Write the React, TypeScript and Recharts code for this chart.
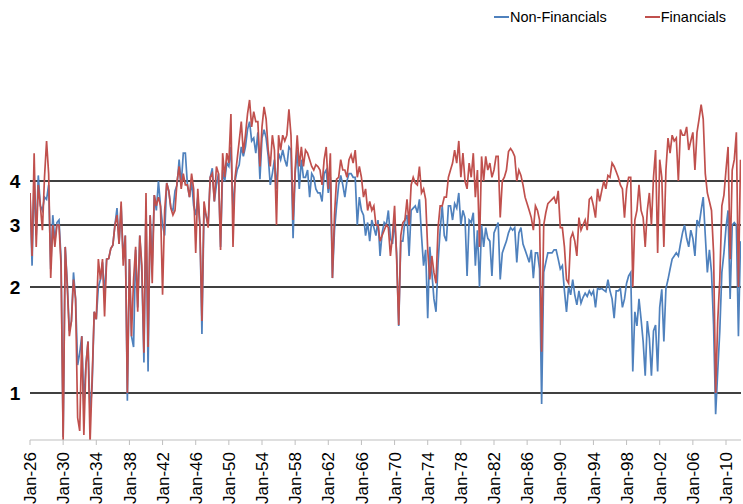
import React from "react";
import { LineChart, Line, XAxis, YAxis, ReferenceLine, Legend } from "recharts";

// Quarterly observations, Jan-1926 .. Oct-2011 (4 values per year)
const START_YEAR = 1926;

const financials: number[] = [
  3.7, 2.45, 4.8, 2.6, // 1926
  3.9, 3.4, 2.9, 4.1, // 1927
  5.2, 4.2, 2.12, 3.0, // 1928
  2.6, 3.0, 3.0, 2.3, // 1929
  0.73, 2.6, 2.0, 1.45, // 1930
  1.6, 2.1, 1.85, 0.85, // 1931
  0.78, 1.45, 0.76, 1.2, // 1932
  1.4, 0.72, 1.1, 1.7, // 1933
  1.62, 2.4, 2.1, 2.4, // 1934
  1.65, 2.4, 2.41, 2.57, // 1935
  2.63, 3.0, 3.2, 2.65, // 1936
  3.5, 2.3, 2.8, 1.0, // 1937
  2.4, 1.45, 2.1, 2.6, // 1938
  1.7, 2.8, 2.3, 1.3, // 1939
  3.7, 1.35, 3.2, 2.05, // 1940
  3.65, 3.4, 3.6, 3.4, // 1941
  1.9, 3.3, 3.95, 3.75, // 1942
  3.35, 3.2, 3.3, 4.0, // 1943
  4.4, 3.8, 4.2, 3.9, // 1944
  3.9, 3.6, 4.2, 3.8, // 1945
  2.5, 3.8, 3.0, 1.6, // 1946
  3.5, 3.2, 2.95, 4.1, // 1947
  4.2, 3.5, 4.4, 4.2, // 1948
  2.55, 4.8, 4.1, 4.8, // 1949
  4.5, 6.2, 2.6, 4.1, // 1950
  4.6, 5.2, 5.9, 4.8, // 1951
  5.4, 6.2, 6.8, 5.7, // 1952
  6.3, 5.9, 5.9, 4.4, // 1953
  5.7, 6.5, 6.0, 4.9, // 1954
  4.4, 5.4, 4.9, 3.0, // 1955
  5.4, 4.9, 5.4, 5.2, // 1956
  5.4, 6.4, 5.4, 3.1, // 1957
  4.3, 5.4, 4.4, 5.0, // 1958
  4.4, 4.9, 4.8, 4.6, // 1959
  4.4, 4.3, 4.45, 4.4, // 1960
  4.3, 3.9, 4.6, 5.0, // 1961
  3.8, 4.8, 2.12, 3.2, // 1962
  4.05, 4.1, 4.6, 4.3, // 1963
  4.3, 4.1, 4.6, 4.75, // 1964
  4.5, 4.9, 4.1, 4.4, // 1965
  4.1, 3.6, 3.8, 3.3, // 1966
  3.5, 3.3, 3.4, 3.0, // 1967
  3.0, 2.7, 2.8, 2.9, // 1968
  3.0, 2.95, 2.45, 2.8, // 1969
  3.4, 2.4, 1.56, 2.8, // 1970
  3.05, 3.1, 3.55, 3.0, // 1971
  3.9, 4.1, 3.95, 3.9, // 1972
  4.4, 3.7, 3.8, 3.55, // 1973
  2.55, 2.1, 2.45, 2.2, // 1974
  2.05, 2.95, 3.4, 3.4, // 1975
  3.6, 3.6, 4.1, 4.3, // 1976
  4.5, 4.9, 4.5, 5.2, // 1977
  4.1, 4.8, 4.0, 3.8, // 1978
  4.5, 4.1, 4.8, 3.6, // 1979
  4.3, 2.6, 4.7, 4.0, // 1980
  4.7, 4.3, 4.5, 4.1, // 1981
  4.3, 4.7, 4.7, 3.15, // 1982
  4.0, 4.1, 4.3, 4.85, // 1983
  4.95, 4.85, 4.7, 4.0, // 1984
  4.3, 4.15, 3.9, 3.6, // 1985
  3.45, 3.3, 3.15, 2.9, // 1986
  3.4, 3.3, 3.1, 1.31, // 1987
  3.0, 3.25, 3.45, 3.5, // 1988
  3.55, 3.6, 3.45, 3.75, // 1989
  2.95, 2.95, 2.6, 2.1, // 1990
  2.05, 2.75, 2.85, 2.7, // 1991
  2.45, 3.15, 2.9, 3.0, // 1992
  3.1, 2.9, 3.55, 3.6, // 1993
  3.4, 3.15, 3.8, 3.5, // 1994
  3.75, 4.0, 3.8, 4.15, // 1995
  4.1, 4.5, 4.4, 4.25, // 1996
  4.1, 3.9, 3.8, 3.15, // 1997
  3.8, 4.1, 4.1, 2.0, // 1998
  3.1, 3.3, 3.9, 3.3, // 1999
  3.15, 2.6, 3.3, 3.7, // 2000
  3.0, 4.1, 4.9, 2.5, // 2001
  4.6, 4.1, 2.6, 4.3, // 2002
  5.3, 4.8, 5.4, 5.2, // 2003
  5.3, 4.0, 5.6, 5.4, // 2004
  5.4, 5.7, 4.9, 5.2, // 2005
  5.5, 4.3, 5.5, 6.0, // 2006
  6.6, 6.0, 4.2, 3.7, // 2007
  3.5, 3.3, 2.5, 1.0, // 2008
  1.6, 2.1, 3.4, 3.65, // 2009
  4.3, 5.0, 2.4, 4.3, // 2010
  4.6, 5.5, 2.0, 4.6, // 2011
];

const nonFinancials: number[] = [
  3.7, 2.3, 4.0, 2.8, // 1926
  4.15, 3.4, 3.3, 3.6, // 1927
  3.55, 3.9, 2.25, 3.2, // 1928
  2.7, 3.05, 3.1, 2.4, // 1929
  0.75, 2.6, 2.05, 1.5, // 1930
  1.6, 2.2, 1.85, 1.2, // 1931
  1.3, 1.45, 0.92, 1.2, // 1932
  1.4, 0.88, 1.05, 1.7, // 1933
  1.62, 2.0, 2.1, 2.35, // 1934
  1.9, 2.4, 2.41, 2.57, // 1935
  2.63, 3.0, 3.35, 2.65, // 1936
  3.4, 2.4, 2.8, 0.95, // 1937
  2.4, 1.45, 1.35, 2.55, // 1938
  1.75, 2.8, 2.2, 1.22, // 1939
  3.4, 1.15, 3.2, 2.3, // 1940
  3.65, 3.3, 4.0, 3.4, // 1941
  3.0, 2.8, 3.95, 3.75, // 1942
  3.35, 3.3, 3.75, 3.9, // 1943
  4.6, 3.9, 4.8, 4.8, // 1944
  3.9, 3.6, 4.0, 3.4, // 1945
  3.2, 3.6, 3.0, 1.47, // 1946
  3.3, 3.2, 3.0, 4.1, // 1947
  4.35, 3.5, 3.9, 4.2, // 1948
  2.6, 4.3, 4.0, 4.5, // 1949
  4.4, 5.0, 3.3, 4.0, // 1950
  4.3, 4.45, 5.0, 4.7, // 1951
  5.0, 5.6, 5.9, 5.2, // 1952
  5.3, 4.8, 5.5, 4.05, // 1953
  5.3, 5.6, 5.3, 4.7, // 1954
  3.9, 4.2, 4.6, 3.8, // 1955
  4.8, 4.6, 4.9, 4.6, // 1956
  4.4, 5.0, 4.9, 2.75, // 1957
  4.2, 4.9, 3.8, 4.6, // 1958
  4.1, 4.1, 4.3, 3.6, // 1959
  4.2, 4.1, 3.8, 3.7, // 1960
  3.7, 3.5, 4.2, 4.3, // 1961
  3.7, 4.1, 2.12, 2.9, // 1962
  3.4, 3.9, 4.15, 3.9, // 1963
  3.6, 4.0, 4.2, 4.2, // 1964
  4.1, 4.1, 3.0, 3.6, // 1965
  3.3, 3.2, 2.8, 3.05, // 1966
  2.7, 3.1, 2.95, 2.8, // 1967
  3.1, 2.45, 2.85, 3.05, // 1968
  3.0, 3.3, 2.75, 2.65, // 1969
  3.1, 2.5, 1.55, 2.7, // 1970
  2.7, 3.1, 3.2, 2.45, // 1971
  3.3, 3.35, 3.4, 3.25, // 1972
  3.55, 2.8, 2.3, 2.55, // 1973
  1.63, 2.6, 2.2, 1.85, // 1974
  1.7, 2.35, 2.9, 3.4, // 1975
  2.8, 2.7, 3.4, 3.4, // 1976
  3.1, 3.45, 3.35, 3.7, // 1977
  3.0, 3.3, 3.15, 2.15, // 1978
  3.1, 3.05, 3.25, 2.3, // 1979
  2.9, 2.0, 3.0, 2.6, // 1980
  2.95, 2.75, 2.7, 2.15, // 1981
  2.85, 2.95, 3.05, 2.1, // 1982
  2.5, 2.6, 2.7, 2.85, // 1983
  2.95, 2.9, 2.95, 2.35, // 1984
  2.85, 2.95, 2.65, 2.55, // 1985
  2.45, 2.35, 2.55, 2.12, // 1986
  2.5, 2.5, 2.25, 0.93, // 1987
  2.2, 2.35, 2.5, 2.5, // 1988
  2.5, 2.55, 2.55, 2.4, // 1989
  2.25, 2.3, 1.95, 1.7, // 1990
  2.0, 1.9, 2.1, 1.9, // 1991
  1.78, 1.95, 1.8, 1.87, // 1992
  1.92, 1.88, 1.95, 1.9, // 1993
  1.95, 1.75, 1.98, 1.97, // 1994
  1.98, 1.96, 1.94, 2.1, // 1995
  1.95, 1.85, 1.63, 1.95, // 1996
  1.95, 1.98, 1.75, 1.85, // 1997
  2.05, 2.15, 2.2, 1.15, // 1998
  1.7, 1.55, 1.85, 1.62, // 1999
  1.4, 1.12, 1.6, 1.43, // 2000
  1.12, 1.5, 1.56, 1.15, // 2001
  1.75, 1.97, 1.4, 1.98, // 2002
  2.1, 2.25, 2.4, 2.45, // 2003
  2.5, 2.45, 2.65, 2.85, // 2004
  3.0, 2.75, 2.6, 2.9, // 2005
  2.75, 2.45, 3.1, 3.0, // 2006
  3.3, 3.6, 2.8, 2.2, // 2007
  2.55, 2.2, 1.56, 0.87, // 2008
  1.15, 1.5, 2.2, 2.5, // 2009
  2.95, 3.3, 1.85, 3.0, // 2010
  3.05, 3.0, 1.45, 2.7, // 2011
];

const xTicks: number[] = [1926, 1930, 1934, 1938, 1942, 1946, 1950, 1954, 1958, 1962, 1966, 1970, 1974, 1978, 1982, 1986, 1990, 1994, 1998, 2002, 2006, 2010];
const yTicks: number[] = [1, 2, 3, 4];

const BLUE = "#4F81BD";
const RED = "#C0504D";
const FONT = "'Liberation Sans', Arial, sans-serif";

const data = financials.map((f, i) => ({
  t: START_YEAR + i * 0.25,
  fin: f,
  nonfin: nonFinancials[i],
}));

const fmtYear = (v: number) => "Jan-" + String(Math.round(v) % 100).padStart(2, "0");

const XTick = (props: any) => {
  const { x, y, payload } = props;
  return (
    <text
      x={x}
      y={y}
      transform={`rotate(-90, ${x}, ${y})`}
      textAnchor="end"
      dy="0.36em"
      fontSize={17}
      fontFamily={FONT}
      fill="#000"
    >
      {fmtYear(payload.value)}
    </text>
  );
};

const YTick = (props: any) => {
  const { y, payload } = props;
  return (
    <text x={15} y={y} dy="0.36em" textAnchor="middle" fontSize={19} fontWeight="bold" fontFamily={FONT} fill="#000">
      {payload.value}
    </text>
  );
};

const LegendContent = () => (
  <div style={{ display: "flex", alignItems: "center", fontFamily: FONT, fontSize: 14.5, color: "#000", whiteSpace: "nowrap" }}>
    <span style={{ display: "inline-flex", alignItems: "center" }}>
      <span style={{ display: "inline-block", width: 15, height: 2, background: BLUE, marginRight: 1 }} />
      Non-Financials
    </span>
    <span style={{ display: "inline-flex", alignItems: "center", marginLeft: 38 }}>
      <span style={{ display: "inline-block", width: 15, height: 2, background: RED, marginRight: 1 }} />
      Financials
    </span>
  </div>
);

export default function App() {
  return (
    <div style={{ position: "absolute", left: 0, top: 0, width: 743, height: 504, background: "#fff" }}>
      <LineChart width={743} height={504} data={data} margin={{ top: 41, right: 2, bottom: 0, left: 0 }}>
        {yTicks.map((v) => (
          <ReferenceLine key={v} y={v} stroke="#000" strokeWidth={1.5} ifOverflow="hidden" />
        ))}
        <XAxis
          dataKey="t"
          type="number"
          domain={[1926, 2011.81]}
          ticks={xTicks}
          interval={0}
          height={64}
          tick={<XTick />}
          tickSize={5}
          tickMargin={7}
          stroke="#BFBFBF"
          tickLine={{ stroke: "#BFBFBF" }}
          allowDataOverflow
        />
        <YAxis
          scale="log"
          type="number"
          domain={[0.735, 10]}
          ticks={yTicks}
          interval={0}
          width={30}
          axisLine={false}
          tickLine={false}
          tick={<YTick />}
          allowDataOverflow
        />
        <Legend
          verticalAlign="middle"
          layout="horizontal"
          content={<LegendContent />}
          wrapperStyle={{ top: 9, left: 494, width: 249, height: 18 }}
        />
        <Line type="linear" dataKey="nonfin" stroke={BLUE} strokeWidth={1.7} dot={false} isAnimationActive={false} />
        <Line type="linear" dataKey="fin" stroke={RED} strokeWidth={1.7} dot={false} isAnimationActive={false} />
      </LineChart>
    </div>
  );
}
